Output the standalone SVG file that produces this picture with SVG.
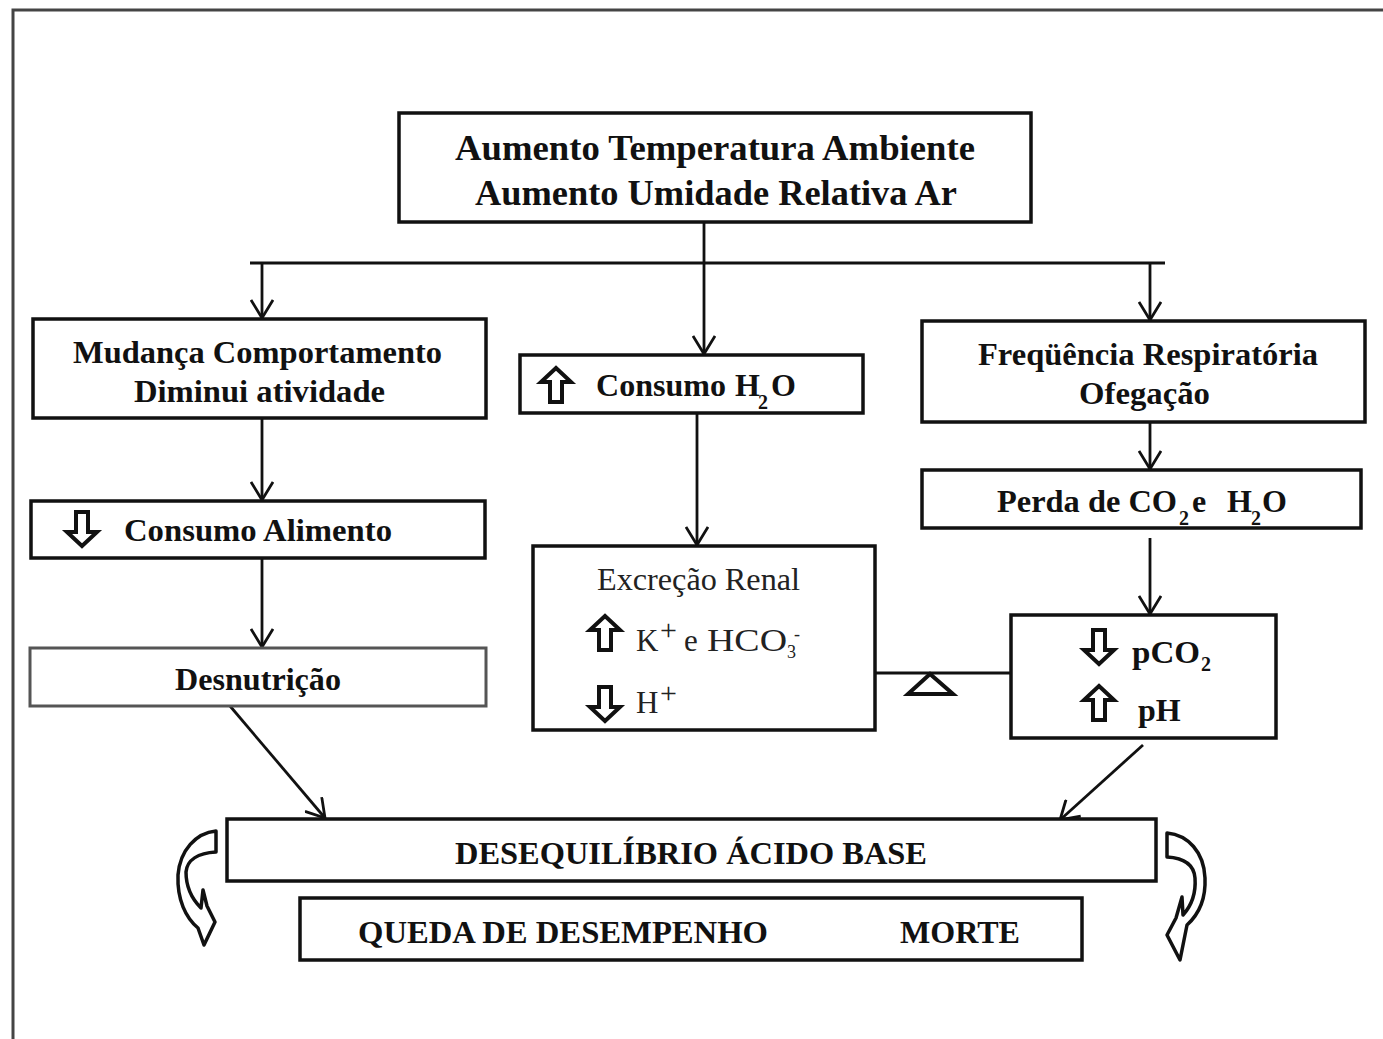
<svg xmlns="http://www.w3.org/2000/svg" width="1383" height="1039" viewBox="0 0 1383 1039">
<style>
.box{fill:#fff;stroke:#111;stroke-width:3.5}
.lt{fill:#fff;stroke:#555;stroke-width:3}
.b{font-family:"Liberation Serif","Times New Roman",serif;font-weight:bold;fill:#111}
.r{font-family:"Liberation Serif","Times New Roman",serif;fill:#222}
.con{fill:none;stroke:#111;stroke-width:2.8}
.ha{fill:#fff;stroke:#111;stroke-width:4;stroke-linejoin:miter}
.curl{fill:#fff;stroke:#111;stroke-width:3.5;stroke-linejoin:round}
</style>
<defs>
<marker id="ah" viewBox="0 0 20 24" refX="19" refY="12" markerWidth="20" markerHeight="24" markerUnits="userSpaceOnUse" orient="auto">
<path d="M1,1 L19,12 L1,23" fill="none" stroke="#111" stroke-width="2.8"/>
</marker>
<path id="up" d="M0,0 L15,14 L6,14 L6,34 L-6,34 L-6,14 L-15,14 Z"/>
</defs>
<rect width="1383" height="1039" fill="#fff"/>
<path d="M13,1039 L13,10 L1383,10" fill="none" stroke="#444" stroke-width="3"/>

<g id="connectors">
<line class="con" x1="704" y1="222" x2="704" y2="354" marker-end="url(#ah)"/>
<line class="con" x1="250" y1="263" x2="1165" y2="263"/>
<line class="con" x1="262" y1="263" x2="262" y2="318" marker-end="url(#ah)"/>
<line class="con" x1="1150" y1="263" x2="1150" y2="320" marker-end="url(#ah)"/>
<line class="con" x1="262" y1="418" x2="262" y2="500" marker-end="url(#ah)"/>
<line class="con" x1="262" y1="558" x2="262" y2="647" marker-end="url(#ah)"/>
<line class="con" x1="697" y1="413" x2="697" y2="545" marker-end="url(#ah)"/>
<line class="con" x1="1150" y1="422" x2="1150" y2="469" marker-end="url(#ah)"/>
<line class="con" x1="1150" y1="538" x2="1150" y2="614" marker-end="url(#ah)"/>
<line class="con" x1="875" y1="673" x2="1011" y2="673"/>
<polygon points="930,674 908,694 953,694" fill="#fff" stroke="#111" stroke-width="4" stroke-linejoin="miter"/>
<line class="con" x1="230" y1="706" x2="325" y2="818" marker-end="url(#ah)"/>
<line class="con" x1="1143" y1="745" x2="1060" y2="820" marker-end="url(#ah)"/>
</g>

<g id="n-top">
<rect class="box" x="399" y="113" width="632" height="109"/>
<text class="b" x="455" y="160" font-size="36" textLength="520" lengthAdjust="spacingAndGlyphs">Aumento Temperatura Ambiente</text>
<text class="b" x="475" y="205" font-size="36" textLength="482" lengthAdjust="spacingAndGlyphs">Aumento Umidade Relativa Ar</text>
</g>

<g id="n-mudanca">
<rect class="box" x="33" y="319" width="453" height="99"/>
<text class="b" x="73" y="363" font-size="32" textLength="369" lengthAdjust="spacingAndGlyphs">Mudança Comportamento</text>
<text class="b" x="134" y="402" font-size="32" textLength="251" lengthAdjust="spacingAndGlyphs">Diminui atividade</text>
</g>

<g id="n-agua">
<rect class="box" x="520" y="355" width="343" height="58"/>
<use href="#up" class="ha" transform="translate(556,368)"/>
<text class="b" x="596" y="396" font-size="32" textLength="130" lengthAdjust="spacingAndGlyphs">Consumo</text>
<text class="b" x="735" y="396" font-size="32">H</text>
<text class="b" x="758" y="409" font-size="20">2</text>
<text class="b" x="771" y="396" font-size="32">O</text>
</g>

<g id="n-freq">
<rect class="box" x="922" y="321" width="443" height="101"/>
<text class="b" x="978" y="365" font-size="32" textLength="340" lengthAdjust="spacingAndGlyphs">Freqüência Respiratória</text>
<text class="b" x="1079" y="404" font-size="32" textLength="131" lengthAdjust="spacingAndGlyphs">Ofegação</text>
</g>

<g id="n-alimento">
<rect class="box" x="31" y="501" width="454" height="57"/>
<use href="#up" class="ha" transform="translate(82,546) scale(1,-1)"/>
<text class="b" x="124" y="541" font-size="32" textLength="268" lengthAdjust="spacingAndGlyphs">Consumo Alimento</text>
</g>

<g id="n-desnutricao">
<rect class="lt" x="30" y="648" width="456" height="58"/>
<text class="b" x="175" y="690" font-size="32" textLength="166" lengthAdjust="spacingAndGlyphs">Desnutrição</text>
</g>

<g id="n-renal">
<rect class="box" x="533" y="546" width="342" height="184"/>
<text class="r" x="597" y="590" font-size="31" textLength="203" lengthAdjust="spacingAndGlyphs">Excreção Renal</text>
<use href="#up" class="ha" transform="translate(605,616)"/>
<text class="r" x="636" y="651" font-size="31">K</text>
<text class="r" x="660" y="640" font-size="30">+</text>
<text class="r" x="684" y="651" font-size="31">e</text>
<text class="r" x="707" y="651" font-size="31" textLength="80" lengthAdjust="spacingAndGlyphs">HCO</text>
<text class="r" x="787" y="658" font-size="18">3</text>
<text class="r" x="794" y="640" font-size="18">-</text>
<use href="#up" class="ha" transform="translate(605,721) scale(1,-1)"/>
<text class="r" x="636" y="713" font-size="31">H</text>
<text class="r" x="660" y="703" font-size="30">+</text>
</g>

<g id="n-perda">
<rect class="box" x="922" y="470" width="439" height="58"/>
<text class="b" x="997" y="512" font-size="32" textLength="180" lengthAdjust="spacingAndGlyphs">Perda de CO</text>
<text class="b" x="1179" y="525" font-size="20">2</text>
<text class="b" x="1192" y="512" font-size="32">e</text>
<text class="b" x="1227" y="512" font-size="32">H</text>
<text class="b" x="1251" y="525" font-size="20">2</text>
<text class="b" x="1262" y="512" font-size="32">O</text>
</g>

<g id="n-pco2">
<rect class="box" x="1011" y="615" width="265" height="123"/>
<use href="#up" class="ha" transform="translate(1099,664) scale(1,-1)"/>
<text class="b" x="1132" y="663" font-size="32" textLength="68" lengthAdjust="spacingAndGlyphs">pCO</text>
<text class="b" x="1201" y="671" font-size="20">2</text>
<use href="#up" class="ha" transform="translate(1099,686)"/>
<text class="b" x="1138" y="721" font-size="32">pH</text>
</g>

<g id="n-deseq">
<rect class="box" x="227" y="819" width="929" height="62"/>
<text class="b" x="455" y="864" font-size="31" textLength="472" lengthAdjust="spacingAndGlyphs">DESEQUILÍBRIO ÁCIDO BASE</text>
</g>

<g id="n-queda">
<rect class="box" x="300" y="898" width="782" height="62"/>
<text class="b" x="358" y="943" font-size="31" textLength="410" lengthAdjust="spacingAndGlyphs">QUEDA DE DESEMPENHO</text>
<text class="b" x="900" y="943" font-size="31" textLength="120" lengthAdjust="spacingAndGlyphs">MORTE</text>
</g>

<g id="curls">
<path class="curl" d="M216,831 C196,833 180,850 178,875 C177,900 186,918 198,928 L204,945 L215,922 L207,906 L203,890 L201,908 C191,898 186,885 186,872 C187,860 198,853 216,852 Z"/>
<path class="curl" d="M1167,833 C1188,835 1204,852 1205,878 C1206,900 1198,915 1187,925 L1180,960 L1167,935 L1176,918 L1182,897 L1183,915 C1192,905 1196,892 1195,878 C1194,865 1184,858 1167,857 Z"/>
</g>
</svg>
